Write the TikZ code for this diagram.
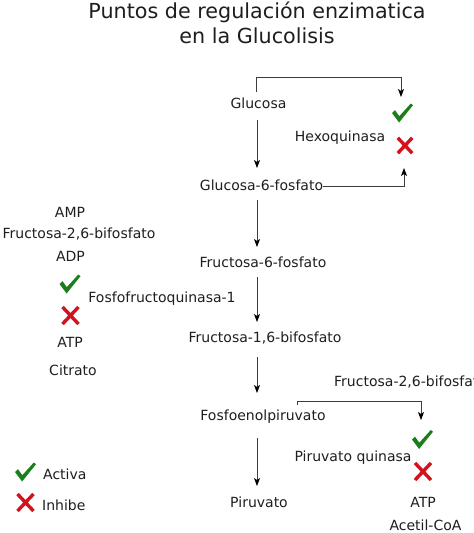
\documentclass[tikz,border=0pt]{standalone}
\usepackage{fontspec}
\setmainfont{DejaVu Sans}
\usetikzlibrary{arrows.meta}
\definecolor{chkgreen}{RGB}{28,125,28}
\definecolor{xred}{RGB}{210,18,28}
\definecolor{txt}{RGB}{30,30,30}
\definecolor{ln}{RGB}{60,60,60}
\begin{document}
\begin{tikzpicture}[x=1pt,y=-1pt,
  lbl/.style={font=\fontsize{14}{16}\selectfont, inner sep=0pt, anchor=base, text=txt, text height=10pt, text depth=3pt},
  ttl/.style={font=\fontsize{20.7}{24}\selectfont, inner sep=0pt, anchor=base, text=txt},
  conn/.style={draw=ln, line width=0.8pt, -{Stealth[length=8pt,width=6pt,inset=2pt,color=black]}},
  chk/.pic={\fill[chkgreen] (-10.5,0) -- (-7.5,-2.8) -- (-3.2,3.2) -- (8.3,-9.5) -- (10.5,-7.8) -- (-3.4,9.5) -- cycle;},
  crs/.pic={\draw[xred, line width=3.4pt] (-8,-8.5) -- (8,8.5) (8,-8.5) -- (-8,8.5);}
]
\useasboundingbox (0,0) rectangle (474,533);
\clip (0,0) rectangle (474,533);

% title
\node[ttl] (t1) at (257,18) {Puntos de regulación enzimatica};
\node[ttl] (t2) at (257,43) {en la Glucolisis};

% main chain
\node[lbl] (glc) at (258.5,108) {Glucosa};
\node[lbl] (g6p) at (261.5,190) {Glucosa-6-fosfato};
\node[lbl] (f6p) at (263,267) {Fructosa-6-fosfato};
\node[lbl] (f16) at (265,342) {Fructosa-1,6-bifosfato};
\node[lbl] (pep) at (263,420) {Fosfoenolpiruvato};
\node[lbl] (pyr) at (259,507) {Piruvato};

\coordinate (a1s) at (257,120); \coordinate (a1e) at (257,168);
\coordinate (a2s) at (257,200); \coordinate (a2e) at (257,247);
\coordinate (a3s) at (257,277); \coordinate (a3e) at (257,322);
\coordinate (a4s) at (257,357); \coordinate (a4e) at (257,393);
\coordinate (a5s) at (257,438); \coordinate (a5e) at (257,486);
\draw[conn] (a1s) -- (a1e);
\draw[conn] (a2s) -- (a2e);
\draw[conn] (a3s) -- (a3e);
\draw[conn] (a4s) -- (a4e);
\draw[conn] (a5s) -- (a5e);

% hexoquinasa
\node[lbl] (hk) at (340,141) {Hexoquinasa};
\pic at (402.5,113) {chk};
\pic[scale=0.9] at (405,145.5) {crs};
\coordinate (hks) at (256,92);
\coordinate (hkin) at (401,97);
\coordinate (hkout) at (404,168);
\draw[conn] (hks) |- ([yshift=20pt]hkin) -- (hkin);
\draw[conn] (g6p.east) -| (hkout);

% fosfofructoquinasa-1
\node[lbl] (amp) at (70,217) {AMP};
\node[lbl] (f26a) at (79,238) {Fructosa-2,6-bifosfato};
\node[lbl] (adp) at (70.5,261) {ADP};
\pic at (70,284) {chk};
\node[lbl] (pfk) at (162,302) {Fosfofructoquinasa-1};
\pic at (70.5,315.5) {crs};
\node[lbl] (atp1) at (70,347) {ATP};
\node[lbl] (cit) at (73,375) {Citrato};

% piruvato quinasa
\node[lbl, anchor=base west] (f26b) at (334,386) {Fructosa-2,6-bifosfato};
\coordinate (pks) at (297,405);
\coordinate (pkin) at (421,420);
\draw[conn] (pks) |- ([yshift=19pt]pkin) -- (pkin);
\pic at (422.5,439.5) {chk};
\node[lbl] (pk) at (353,461) {Piruvato quinasa};
\pic at (423,471.5) {crs};
\node[lbl] (atp2) at (423,507) {ATP};
\node[lbl] (acoa) at (425.5,530) {Acetil-CoA};

% legend
\pic at (25.5,472) {chk};
\node[lbl, anchor=base west] (act) at (43,479) {Activa};
\pic at (25.5,502.5) {crs};
\node[lbl, anchor=base west] (inh) at (42,510) {Inhibe};
\end{tikzpicture}
\end{document}
